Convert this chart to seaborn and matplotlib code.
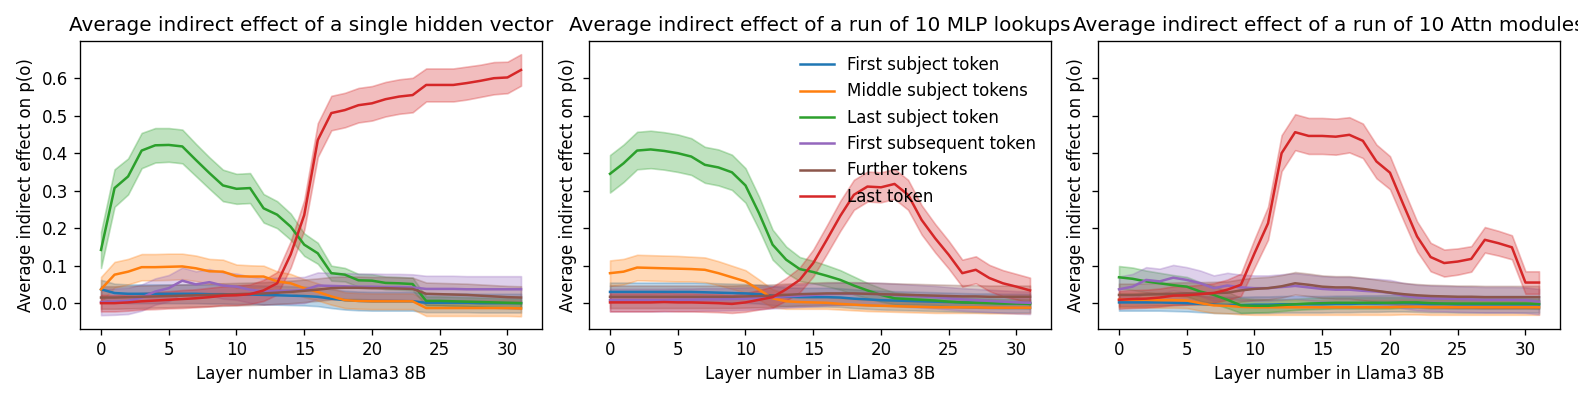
import numpy as np
import pandas as pd
import seaborn as sns
import matplotlib.pyplot as plt
from matplotlib.lines import Line2D

# ---- data (mean line and band half-width per layer) ----
layers = list(range(32))
series_names = ["First subject token", "Middle subject tokens", "Last subject token",
                "First subsequent token", "Further tokens", "Last token"]
colors = ["tab:blue", "tab:orange", "tab:green", "tab:purple", "tab:brown", "tab:red"]
titles = ["Average indirect effect of a single hidden vector",
          "Average indirect effect of a run of 10 MLP lookups",
          "Average indirect effect of a run of 10 Attn modules"]

# panel 1: single hidden vector
blue1 = [0.037, 0.027, 0.025, 0.025, 0.025, 0.025, 0.025, 0.025, 0.024, 0.024, 0.023, 0.023, 0.022, 0.021, 0.020, 0.019,
         0.017, 0.012, 0.008, 0.006, 0.005, 0.005, 0.005, 0.005, 0.001, 0.001, 0.001, 0.001, 0.0, 0.0, 0.0, 0.0]
orange1 = [0.037, 0.076, 0.084, 0.096, 0.096, 0.097, 0.098, 0.093, 0.085, 0.084, 0.072, 0.071, 0.071, 0.058, 0.053, 0.040,
           0.030, 0.018, 0.008, 0.006, 0.005, 0.005, 0.005, 0.005, -0.013, -0.013, -0.013, -0.013, -0.013, -0.013, -0.013, -0.014]
green1 = [0.142, 0.307, 0.338, 0.407, 0.421, 0.422, 0.418, 0.382, 0.347, 0.314, 0.305, 0.307, 0.253, 0.236, 0.204, 0.156,
          0.133, 0.080, 0.076, 0.061, 0.060, 0.054, 0.053, 0.051, 0.006, 0.006, 0.005, 0.004, 0.003, 0.002, 0.001, 0.0]
purple1 = [0.003, 0.004, 0.006, 0.015, 0.031, 0.040, 0.060, 0.050, 0.056, 0.047, 0.044, 0.036, 0.031, 0.033, 0.033, 0.035,
           0.047, 0.046, 0.045, 0.044, 0.044, 0.043, 0.043, 0.042, 0.038, 0.038, 0.038, 0.037, 0.037, 0.037, 0.037, 0.037]
brown1 = [0.015, 0.015, 0.016, 0.017, 0.018, 0.019, 0.020, 0.021, 0.022, 0.023, 0.024, 0.025, 0.026, 0.028, 0.030, 0.033,
          0.036, 0.040, 0.041, 0.041, 0.040, 0.040, 0.039, 0.038, 0.025, 0.024, 0.023, 0.022, 0.020, 0.018, 0.016, 0.015]
red1 = [0.0, 0.0, 0.002, 0.005, 0.007, 0.009, 0.011, 0.013, 0.016, 0.020, 0.021, 0.024, 0.034, 0.053, 0.130, 0.235,
        0.435, 0.507, 0.515, 0.528, 0.533, 0.544, 0.551, 0.555, 0.582, 0.582, 0.582, 0.587, 0.593, 0.600, 0.602, 0.622]

# panel 2: MLP lookups
blue2 = [0.030, 0.030, 0.030, 0.030, 0.030, 0.030, 0.030, 0.029, 0.028, 0.027, 0.026, 0.024, 0.020, 0.017, 0.016, 0.016,
         0.016, 0.015, 0.012, 0.010, 0.008, 0.007, 0.006, 0.005, 0.004, 0.003, 0.002, 0.001, 0.001, 0.0, 0.0, 0.0]
orange2 = [0.080, 0.084, 0.095, 0.094, 0.093, 0.092, 0.091, 0.089, 0.080, 0.069, 0.058, 0.036, 0.013, 0.005, 0.003, 0.002,
           0.001, -0.002, -0.004, -0.006, -0.007, -0.008, -0.009, -0.010, -0.011, -0.011, -0.011, -0.011, -0.012, -0.012, -0.012, -0.012]
green2 = [0.345, 0.373, 0.407, 0.410, 0.406, 0.400, 0.391, 0.369, 0.362, 0.349, 0.314, 0.240, 0.156, 0.116, 0.091, 0.083,
          0.073, 0.062, 0.047, 0.034, 0.022, 0.013, 0.011, 0.009, 0.007, 0.004, 0.002, 0.001, 0.0, -0.001, -0.001, -0.002]
purple2 = [0.008, 0.008, 0.008, 0.008, 0.008, 0.009, 0.009, 0.010, 0.010, 0.011, 0.012, 0.014, 0.016, 0.018, 0.020, 0.022,
           0.024, 0.025, 0.025, 0.025, 0.024, 0.022, 0.020, 0.018, 0.016, 0.013, 0.010, 0.008, 0.006, 0.004, 0.002, 0.001]
brown2 = [0.017, 0.017, 0.017, 0.017, 0.017, 0.017, 0.017, 0.017, 0.017, 0.017, 0.018, 0.019, 0.020, 0.022, 0.024, 0.025,
          0.026, 0.026, 0.026, 0.025, 0.024, 0.023, 0.022, 0.021, 0.020, 0.019, 0.018, 0.018, 0.017, 0.017, 0.017, 0.017]
red2 = [0.002, 0.002, 0.002, 0.002, 0.003, 0.002, 0.002, 0.001, 0.0, -0.002, 0.002, 0.009, 0.016, 0.037, 0.062, 0.107,
        0.169, 0.233, 0.289, 0.311, 0.309, 0.318, 0.289, 0.222, 0.173, 0.129, 0.080, 0.089, 0.067, 0.053, 0.044, 0.034]

# panel 3: Attn modules
blue3 = [0.002, 0.002, 0.002, 0.002, 0.001, 0.0, -0.002, -0.004, -0.005, -0.005, -0.004, -0.004, -0.003, -0.003, -0.003, -0.003,
         -0.002, -0.002, -0.001, -0.001, 0.0, 0.0, -0.001, -0.002, -0.002, -0.003, -0.003, -0.003, -0.003, -0.003, -0.003, -0.003]
orange3 = [0.009, 0.009, 0.009, 0.008, 0.008, 0.007, 0.0, -0.006, -0.007, -0.010, -0.011, -0.011, -0.011, -0.011, -0.011, -0.011,
           -0.011, -0.011, -0.011, -0.011, -0.011, -0.010, -0.010, -0.011, -0.011, -0.011, -0.011, -0.011, -0.011, -0.011, -0.011, -0.011]
green3 = [0.069, 0.065, 0.058, 0.053, 0.048, 0.044, 0.031, 0.022, 0.009, -0.006, -0.007, -0.007, -0.005, -0.003, -0.001, 0.0,
          0.001, 0.001, 0.001, 0.001, 0.001, 0.002, 0.002, 0.0, -0.001, -0.001, -0.001, -0.001, -0.001, -0.001, -0.001, -0.002]
purple3 = [0.037, 0.044, 0.062, 0.058, 0.068, 0.062, 0.053, 0.040, 0.047, 0.042, 0.040, 0.040, 0.043, 0.046, 0.042, 0.038,
           0.036, 0.036, 0.033, 0.031, 0.028, 0.020, 0.015, 0.013, 0.012, 0.011, 0.010, 0.009, 0.009, 0.009, 0.008, 0.004]
brown3 = [0.022, 0.022, 0.023, 0.024, 0.025, 0.026, 0.026, 0.027, 0.028, 0.034, 0.038, 0.040, 0.045, 0.053, 0.049, 0.044,
          0.042, 0.042, 0.038, 0.033, 0.028, 0.024, 0.021, 0.019, 0.018, 0.017, 0.017, 0.016, 0.016, 0.016, 0.016, 0.016]
red3 = [0.009, 0.011, 0.012, 0.015, 0.020, 0.021, 0.024, 0.027, 0.036, 0.049, 0.133, 0.213, 0.400, 0.456, 0.446, 0.446,
        0.444, 0.449, 0.433, 0.378, 0.348, 0.262, 0.178, 0.123, 0.107, 0.111, 0.118, 0.169, 0.160, 0.149, 0.055, 0.055]

# band half-widths
green_hw1 = [0.048, 0.050, 0.048, 0.047, 0.046, 0.045, 0.045, 0.043, 0.042, 0.042, 0.040, 0.040, 0.038, 0.036, 0.035, 0.030,
             0.028, 0.020, 0.018, 0.017, 0.017, 0.017, 0.017, 0.017, 0.012, 0.012, 0.012, 0.012, 0.012, 0.012, 0.012, 0.012]
green_hw2 = [0.050, 0.050, 0.050, 0.050, 0.050, 0.050, 0.049, 0.048, 0.048, 0.047, 0.046, 0.044, 0.040, 0.035, 0.032, 0.030,
             0.028, 0.026, 0.024, 0.020, 0.018, 0.016, 0.014, 0.013, 0.012, 0.012, 0.012, 0.012, 0.012, 0.012, 0.012, 0.012]
green_hw3 = [0.030, 0.030, 0.029, 0.028, 0.027, 0.026, 0.025, 0.024, 0.022, 0.020, 0.018, 0.017, 0.016, 0.015, 0.015, 0.015,
             0.015, 0.015, 0.015, 0.015, 0.015, 0.014, 0.014, 0.014, 0.013, 0.013, 0.013, 0.013, 0.013, 0.013, 0.013, 0.013]
red_hw1 = [0.022, 0.022, 0.022, 0.022, 0.023, 0.023, 0.024, 0.024, 0.025, 0.025, 0.026, 0.026, 0.028, 0.030, 0.035, 0.040,
           0.045, 0.046, 0.046, 0.046, 0.046, 0.046, 0.046, 0.046, 0.044, 0.044, 0.044, 0.044, 0.043, 0.043, 0.042, 0.042]
red_hw2 = [0.024, 0.024, 0.024, 0.024, 0.024, 0.024, 0.024, 0.024, 0.024, 0.024, 0.025, 0.026, 0.028, 0.030, 0.033, 0.036,
           0.038, 0.040, 0.040, 0.040, 0.040, 0.040, 0.040, 0.039, 0.038, 0.037, 0.036, 0.036, 0.035, 0.035, 0.034, 0.034]
red_hw3 = [0.024, 0.024, 0.024, 0.024, 0.025, 0.025, 0.025, 0.026, 0.027, 0.030, 0.038, 0.044, 0.048, 0.048, 0.048, 0.048,
           0.048, 0.047, 0.046, 0.045, 0.044, 0.042, 0.040, 0.038, 0.036, 0.035, 0.034, 0.034, 0.033, 0.032, 0.030, 0.030]
orange_hw1 = [0.033, 0.034, 0.034, 0.035, 0.035, 0.035, 0.034, 0.034, 0.033, 0.032, 0.031, 0.030, 0.029, 0.027, 0.025, 0.024,
              0.023, 0.022, 0.021, 0.021, 0.021, 0.021, 0.021, 0.021, 0.021, 0.021, 0.021, 0.021, 0.021, 0.021, 0.021, 0.021]
orange_hw2 = [0.034, 0.034, 0.034, 0.034, 0.034, 0.034, 0.033, 0.033, 0.032, 0.031, 0.030, 0.027, 0.024, 0.020, 0.018, 0.017,
              0.016, 0.015, 0.015, 0.015, 0.015, 0.015, 0.015, 0.015, 0.015, 0.015, 0.015, 0.015, 0.015, 0.015, 0.015, 0.015]
blue_hw = [0.025, 0.025, 0.022]
orange_hw3 = 0.02
purple_hw = [0.035, 0.03, 0.034]
brown_hw = [0.03, 0.03, 0.03]

panels = [
    [(blue1, blue_hw[0]), (orange1, orange_hw1), (green1, green_hw1),
     (purple1, purple_hw[0]), (brown1, brown_hw[0]), (red1, red_hw1)],
    [(blue2, blue_hw[1]), (orange2, orange_hw2), (green2, green_hw2),
     (purple2, purple_hw[1]), (brown2, brown_hw[1]), (red2, red_hw2)],
    [(blue3, blue_hw[2]), (orange3, orange_hw3), (green3, green_hw3),
     (purple3, purple_hw[2]), (brown3, brown_hw[2]), (red3, red_hw3)],
]

# long-form table: three rows per layer (low, mean, high); median = line, min/max = band
rows = []
for p, panel in enumerate(panels):
    for name, (mean, hw) in zip(series_names, panel):
        mean = np.asarray(mean)
        hw = np.broadcast_to(np.asarray(hw, dtype=float), mean.shape)
        for val in (mean - hw, mean, mean + hw):
            rows.append(pd.DataFrame({"panel": p, "series": name, "layer": layers, "value": val}))
df = pd.concat(rows, ignore_index=True)

palette = dict(zip(series_names, colors))

fig, axes = plt.subplots(1, 3, figsize=(1578 / 120, 395 / 120), dpi=120)
fig.subplots_adjust(left=0.0507, right=0.9886, top=0.896, bottom=0.167, wspace=0.1017)

for p, ax in enumerate(axes):
    sns.lineplot(data=df[df.panel == p], x="layer", y="value", hue="series",
                 hue_order=series_names, palette=palette, estimator="median",
                 errorbar=lambda v: (v.min(), v.max()), err_kws={"alpha": 0.3},
                 legend=False, ax=ax)
    ax.set_title(titles[p])
    ax.set_xlabel("Layer number in Llama3 8B")
    ax.set_ylabel("Average indirect effect on p(o)")
    ax.set_xticks([0, 5, 10, 15, 20, 25, 30])
    ax.set_ylim(-0.069, 0.699)
    if p > 0:
        ax.tick_params(labelleft=False)

handles = [Line2D([], [], color=c, lw=1.5) for c in colors]
axes[1].legend(handles, series_names, loc="upper right", frameon=False)

fig.savefig("out.png", dpi=120)
